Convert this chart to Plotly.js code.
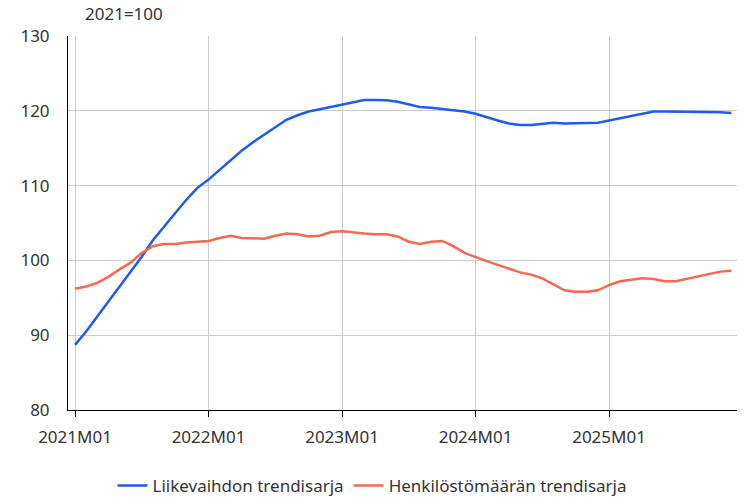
<!DOCTYPE html>
<html>
<head>
<meta charset="utf-8">
<script src="https://cdn.plot.ly/plotly-3.0.1.min.js"></script>
<style>html,body{margin:0;padding:0;background:#fff;}#chart{width:745px;height:497px;}</style>
</head>
<body>
<div id="chart"></div>
<script>
var years = [2021, 2022, 2023, 2024, 2025];
var months = [];
years.forEach(function(y){ for (var m = 1; m <= 12; m++) months.push(y + 'M' + (m < 10 ? '0' + m : m)); });

var tickLabels = ['2021M01', '2022M01', '2023M01', '2024M01', '2025M01'];

var liikevaihto = [
  88.7, 90.5, 92.5, 94.5, 96.5, 98.5, 100.5, 102.7, 104.5, 106.3, 108.1, 109.7,
  110.8, 112.1, 113.4, 114.7, 115.8, 116.8, 117.8, 118.8, 119.4, 119.9, 120.2, 120.5,
  120.9, 121.2, 121.45, 121.45, 121.4, 121.2, 120.9, 120.5, 120.4, 120.2, 120.1, 119.9,
  119.6, 119.1, 118.7, 118.3, 118.1, 118.1, 118.3, 118.4, 118.3, 118.3, 118.3, 118.4,
  118.7, 119.0, 119.4, 119.7, 119.9, 119.9, 119.9, 119.9, 119.9, 119.9, 119.8, 119.7
];
var henkilosto = [
  96.2, 96.5, 97.0, 97.8, 98.8, 99.7, 101.0, 101.9, 102.2, 102.2, 102.4, 102.5,
  102.6, 103.0, 103.3, 103.0, 102.9, 102.9, 103.3, 103.6, 103.5, 103.2, 103.3, 103.8,
  103.9, 103.7, 103.6, 103.5, 103.5, 103.2, 102.5, 102.2, 102.5, 102.6, 101.9, 101.0,
  100.4, 99.9, 99.4, 98.9, 98.4, 98.1, 97.6, 96.8, 96.0, 95.8, 95.8, 96.0,
  96.7, 97.2, 97.4, 97.6, 97.5, 97.2, 97.2, 97.5, 97.9, 98.2, 98.5, 98.6
];

var font = "'Noto Sans', 'Open Sans', sans-serif";
var txt = '#333333';

var traces = [
  {x: months, y: liikevaihto, type: 'scatter', mode: 'lines', name: 'Liikevaihdon trendisarja',
   line: {color: '#1f5bf0', width: 2.5}},
  {x: months, y: henkilosto, type: 'scatter', mode: 'lines', name: 'Henkilöstömäärän trendisarja',
   line: {color: '#f4694f', width: 2.5}}
];

var layout = {
  width: 745, height: 497,
  margin: {l: 68, r: 8, t: 36, b: 87},
  paper_bgcolor: '#fff', plot_bgcolor: '#fff',
  font: {family: font, size: 17, color: txt},
  showlegend: true,
  legend: {orientation: 'h', xref: 'container', yref: 'container', x: 0.5, xanchor: 'center',
           y: 0.022, yanchor: 'middle', itemwidth: 30,
           font: {family: font, size: 17, color: txt}},
  xaxis: {
    type: 'category', range: [-0.63, 59.5],
    tickmode: 'array', tickvals: tickLabels, ticktext: tickLabels,
    showgrid: true, gridcolor: '#cccccc', gridwidth: 1,
    showline: true, linecolor: '#000', linewidth: 1,
    ticks: 'outside', ticklen: 6, tickcolor: '#000', ticklabelstandoff: 6,
    zeroline: false, tickfont: {family: font, size: 17, color: txt}
  },
  yaxis: {
    range: [80, 130], tickvals: [80, 90, 100, 110, 120, 130],
    showgrid: true, gridcolor: '#cccccc', gridwidth: 1,
    showline: true, linecolor: '#000', linewidth: 1,
    ticks: '', ticklabelstandoff: 14, zeroline: false,
    tickfont: {family: font, size: 17, color: txt}
  },
  annotations: [{
    text: '2021=100', xref: 'paper', yref: 'paper', x: 0.022, y: 1.059,
    xanchor: 'left', yanchor: 'middle', showarrow: false,
    font: {family: font, size: 17, color: txt}
  }]
};

Plotly.newPlot('chart', traces, layout, {displayModeBar: false, staticPlot: true});
</script>
</body>
</html>
